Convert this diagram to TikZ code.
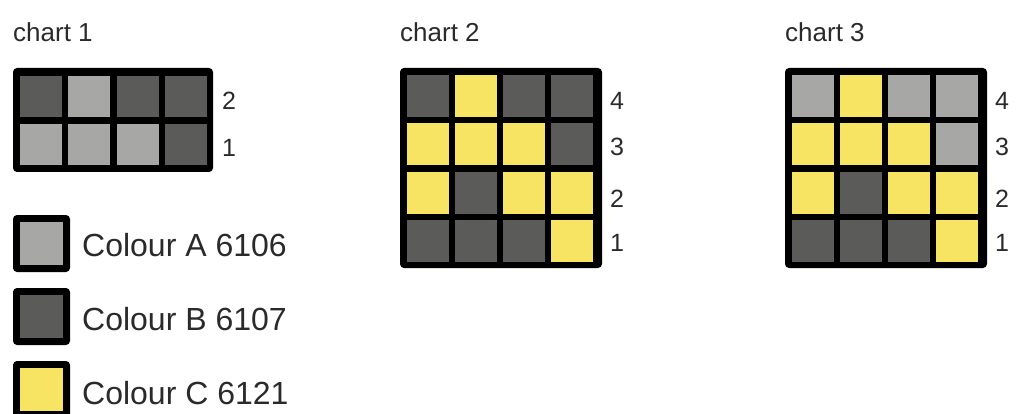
\documentclass[tikz,border=0pt]{standalone}
\usepackage{fontspec}
\setmainfont{Liberation Sans}
\definecolor{cA}{HTML}{A7A7A5}
\definecolor{cB}{HTML}{5B5B59}
\definecolor{cC}{HTML}{F7E462}
\definecolor{txt}{HTML}{2A2A2A}
\tikzset{
  frame/.style={fill=black, draw=none, rounded corners=4pt},
  cell/.style={draw=none},
  title/.style={anchor=base west, inner sep=0pt, text=txt, font=\fontsize{26}{30}\selectfont},
  rowlab/.style={anchor=west, inner sep=0pt, text=txt, font=\fontsize{25}{30}\selectfont},
  legtext/.style={anchor=west, inner sep=0pt, text=txt, font=\fontsize{32}{38}\selectfont},
}
% cells: #1 x0, #2 y0 (top), #3 list of col/row/colour
\begin{document}
\begin{tikzpicture}[x=1pt,y=-1pt]
\useasboundingbox (0,0) rectangle (1016,414);
% ---------- chart 1 ----------
\node[title] (t1) at (13,42) {chart 1};
\fill[frame] (13,68) rectangle (213,172);
\foreach \c/\r/\col in {0/0/cB,1/0/cA,2/0/cB,3/0/cB,0/1/cA,1/1/cA,2/1/cA,3/1/cB}{
  \fill[\col] ({13+7+\c*48.3},{68+8+\r*48}) rectangle ++(42,41);
}
\node[rowlab] (c1r2) at (222,101) {2};
\node[rowlab] (c1r1) at (222,148) {1};
% ---------- legend ----------
\foreach \i/\col/\lab in {0/cA/A 6106,1/cB/B 6107,2/cC/C 6121}{
  \fill[frame] (13,{215+\i*73}) rectangle ++(57,57);
  \fill[\col] (20,{222+\i*73}) rectangle ++(43,43);
  \node[legtext] (leg\i) at (82,{245+\i*74}) {Colour \lab};
}
% ---------- chart 2 ----------
\node[title] (t2) at (400,42) {chart 2};
\fill[frame] (400,68) rectangle (602,268);
\foreach \c/\r/\col in {
  0/0/cB,1/0/cC,2/0/cB,3/0/cB,
  0/1/cC,1/1/cC,2/1/cC,3/1/cB,
  0/2/cC,1/2/cB,2/2/cC,3/2/cC,
  0/3/cB,1/3/cB,2/3/cB,3/3/cC}{
  \fill[\col] ({400+7+\c*48},{68+7+\r*48.3}) rectangle ++(42,42);
}
\node[rowlab] (c2r4) at (610,101) {4};
\node[rowlab] (c2r3) at (610,147) {3};
\node[rowlab] (c2r2) at (610,199) {2};
\node[rowlab] (c2r1) at (610,243) {1};
% ---------- chart 3 ----------
\node[title] (t3) at (785,42) {chart 3};
\fill[frame] (785,68) rectangle (987,268);
\foreach \c/\r/\col in {
  0/0/cA,1/0/cC,2/0/cA,3/0/cA,
  0/1/cC,1/1/cC,2/1/cC,3/1/cA,
  0/2/cC,1/2/cB,2/2/cC,3/2/cC,
  0/3/cB,1/3/cB,2/3/cB,3/3/cC}{
  \fill[\col] ({785+7+\c*48},{68+7+\r*48.3}) rectangle ++(42,42);
}
\node[rowlab] (c3r4) at (995,101) {4};
\node[rowlab] (c3r3) at (995,147) {3};
\node[rowlab] (c3r2) at (995,199) {2};
\node[rowlab] (c3r1) at (995,243) {1};
\end{tikzpicture}
\end{document}
